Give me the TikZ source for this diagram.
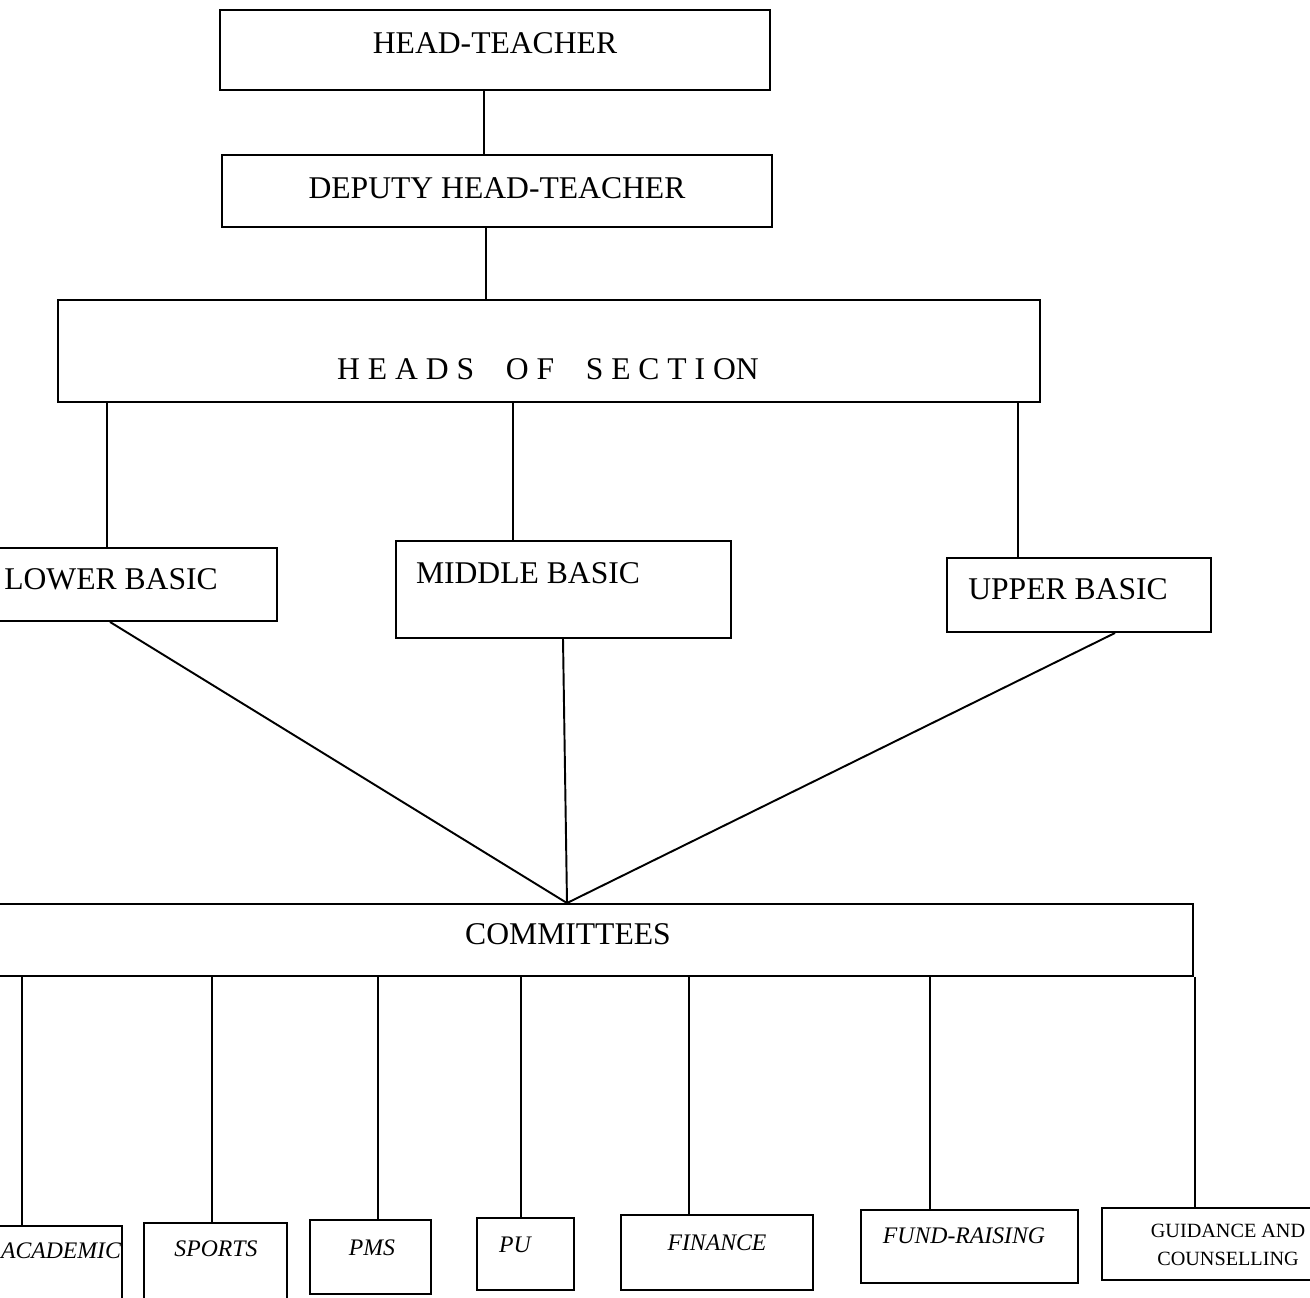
\documentclass[tikz,border=0pt]{standalone}
\usepackage{fontspec}
\setmainfont{Liberation Serif}
\usetikzlibrary{fit}
\begin{document}
\begin{tikzpicture}[x=0.02cm,y=-0.02cm,
  box/.style={draw,line width=1.1pt,inner sep=0pt},
  big/.style={font=\fontsize{18}{21}\selectfont,inner sep=0pt},
  small/.style={font=\fontsize{13.5}{16}\itshape\selectfont,inner sep=0pt},
  tiny/.style={font=\fontsize{11.5}{16}\selectfont,inner sep=0pt,align=center},
  link/.style={line width=1.1pt}]
\useasboundingbox (0,0) rectangle (1310,1297);
% boxes
\node[box,fit={(220,10)(770,90)}] (ht) {};
\node[box,fit={(222,155)(772,227)}] (dht) {};
\node[box,fit={(58,300)(1040,402)}] (hos) {};
\node[box,fit={(-5,548)(277,621)}] (lb) {};
\node[box,fit={(396,541)(731,638)}] (mb) {};
\node[box,fit={(947,558)(1211,632)}] (ub) {};
\node[box,fit={(-5,904)(1193,976)}] (com) {};
\node[box,fit={(-5,1226)(122,1320)}] (ac) {};
\node[box,fit={(144,1223)(287,1320)}] (sp) {};
\node[box,fit={(310,1220)(431,1294)}] (pms) {};
\node[box,fit={(477,1218)(574,1290)}] (pu) {};
\node[box,fit={(621,1215)(813,1290)}] (fin) {};
\node[box,fit={(861,1210)(1078,1283)}] (fr) {};
\node[box,fit={(1102,1208)(1330,1280)}] (gc) {};
% texts
\node[big] (ht-t) at (495,43) {HEAD-TEACHER};
\node[big] (dht-t) at (497,188) {DEPUTY HEAD-TEACHER};
\node[big] (hos-t) at (548,369) {H E A D S\quad O F\quad S E C T I ON};
\node[big] (lb-t) at (111,579) {LOWER BASIC};
\node[big] (mb-t) at (528,573) {MIDDLE BASIC};
\node[big] (ub-t) at (1068,589) {UPPER BASIC};
\node[big] (com-t) at (568,934) {COMMITTEES};
\node[small] (ac-t) at (61,1251) {ACADEMIC};
\node[small] (sp-t) at (216,1249) {SPORTS};
\node[small] (pms-t) at (372,1248) {PMS};
\node[small] (pu-t) at (515,1245) {PU};
\node[small] (fin-t) at (717,1243) {FINANCE};
\node[small] (fr-t) at (964,1236) {FUND-RAISING};
\node[tiny] (gc-t) at (1228,1245) {GUIDANCE AND\\COUNSELLING};
% x positions of connectors
\coordinate (x1) at (484,0);
\coordinate (x2) at (486,0);
\coordinate (x3) at (107,0);
\coordinate (x4) at (513,0);
\coordinate (x5) at (1018,0);
\coordinate (xl) at (110,0);
\coordinate (xm) at (563,0);
\coordinate (xu) at (1115,0);
\coordinate (xa) at (567,0);
\coordinate (b1) at (22,0);
\coordinate (b2) at (212,0);
\coordinate (b3) at (378,0);
\coordinate (b4) at (521,0);
\coordinate (b5) at (689,0);
\coordinate (b6) at (930,0);
\coordinate (b7) at (1195,0);
\coordinate (apex) at (com.north -| xa);
% connectors
\draw[link] (ht.south -| x1) -- (dht.north -| x1);
\draw[link] (dht.south -| x2) -- (hos.north -| x2);
\draw[link] (hos.south -| x3) -- (lb.north -| x3);
\draw[link] (hos.south -| x4) -- (mb.north -| x4);
\draw[link] (hos.south -| x5) -- (ub.north -| x5);
\draw[link] (lb.south -| xl) -- (apex);
\draw[link] (mb.south -| xm) -- (apex);
\draw[link] (ub.south -| xu) -- (apex);
\draw[link] (com.south -| b1) -- (ac.north -| b1);
\draw[link] (com.south -| b2) -- (sp.north -| b2);
\draw[link] (com.south -| b3) -- (pms.north -| b3);
\draw[link] (com.south -| b4) -- (pu.north -| b4);
\draw[link] (com.south -| b5) -- (fin.north -| b5);
\draw[link] (com.south -| b6) -- (fr.north -| b6);
\draw[link] (com.south -| b7) -- (gc.north -| b7);
\end{tikzpicture}
\end{document}
